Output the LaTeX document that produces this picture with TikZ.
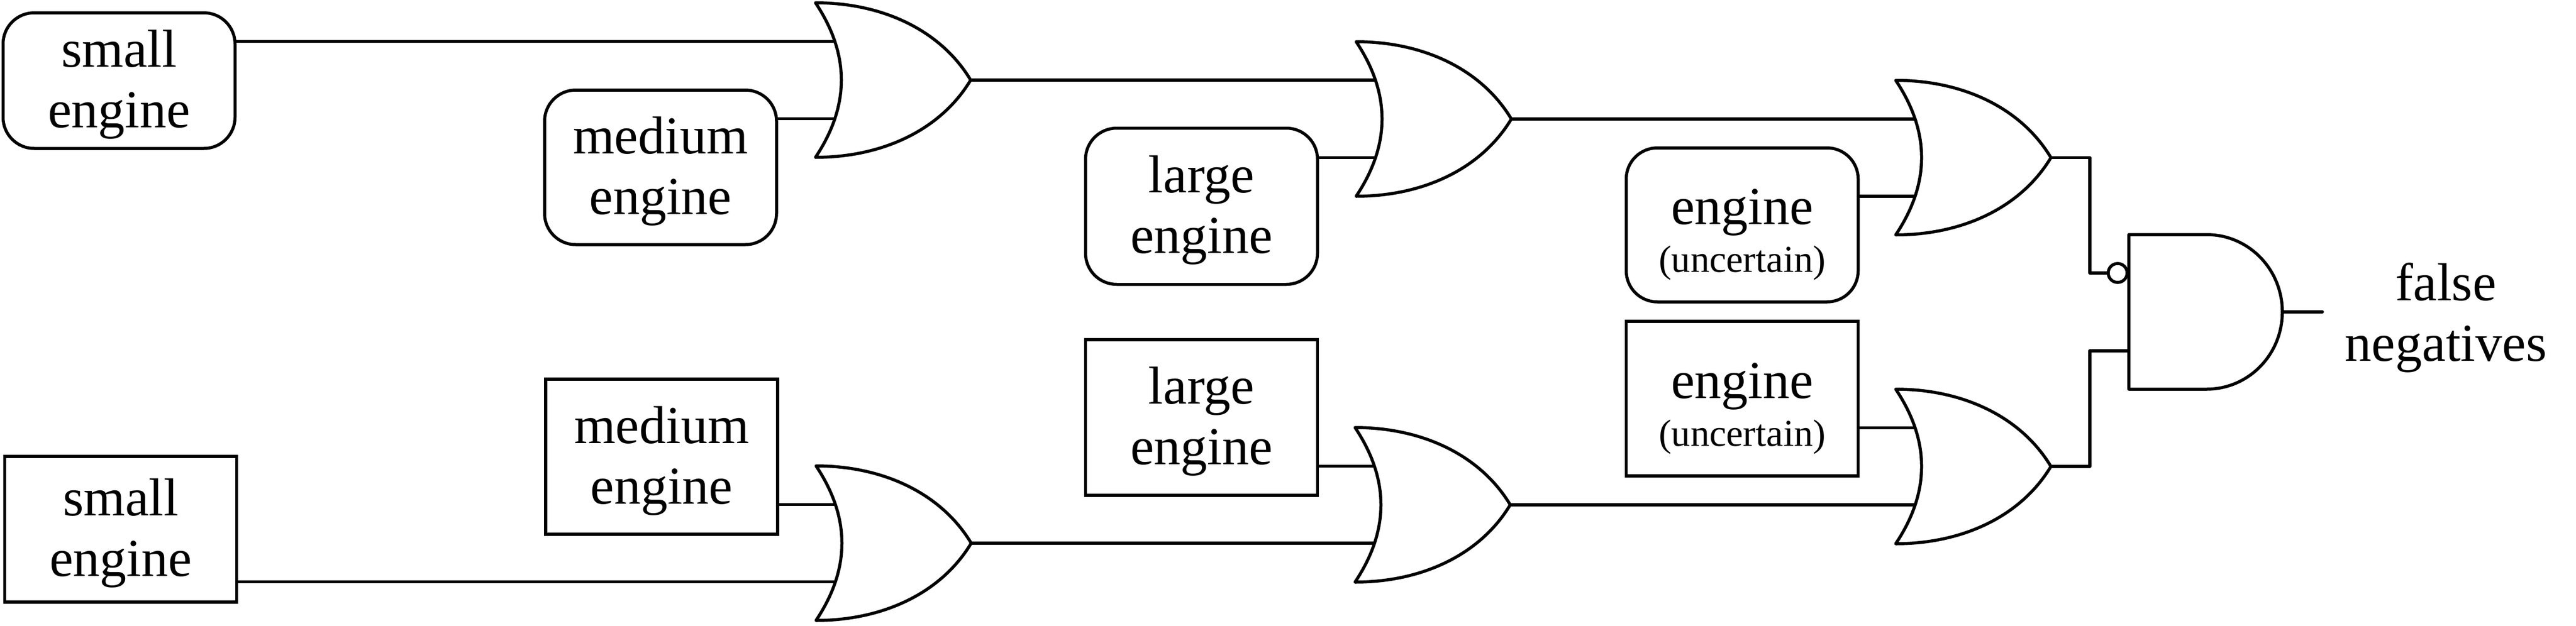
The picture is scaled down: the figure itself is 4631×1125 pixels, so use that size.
\documentclass[tikz,border=0pt]{standalone}
\usepackage{fontspec}
\setmainfont{Liberation Serif}

\tikzset{
  wire/.style={line width=2.75pt,line join=round,line cap=round},
  roundbox/.style={draw,line width=2.75pt,rounded corners=28pt,minimum width=208.5pt,inner sep=0pt,outer sep=0pt,align=center,font=\bigtext,text depth=3pt},
  sharpbox/.style={draw,line width=2.75pt,minimum width=208.5pt,inner sep=0pt,outer sep=0pt,align=center,font=\bigtext,text depth=3pt},
  uncert/.style={text depth=0pt},
  bubble/.style={draw,circle,line width=2.75pt,minimum size=17pt,inner sep=0pt,outer sep=0pt},
  outlabel/.style={inner sep=0pt,align=center,font=\bigtext}
}
\newcommand{\bigtext}{\fontsize{48}{54.5}\selectfont}
\newcommand{\smalltext}{\fontsize{34.2}{38}\selectfont}
\newcommand{\uncerttext}{\rule{0pt}{42pt}engine\\[-11.5pt]{\smalltext (uncertain)}}

% or gate: name, left end, centre height
\newcommand{\orgate}[3]{
  \begin{scope}[shift={(#2,#3)}]
    \draw[wire] (0,-139) .. controls (62,-46) and (62,46) .. (0,139)
      .. controls (120,139) and (225,90) .. (279,0)
      .. controls (225,-90) and (120,-139) .. (0,-139) -- cycle;
    \coordinate (#1-a) at (34,-69.5);
    \coordinate (#1-b) at (34,69.5);
    \coordinate (#1-o) at (279,0);
  \end{scope}
}
% and gate: name, left end, centre height
\newcommand{\andgate}[3]{
  \begin{scope}[shift={(#2,#3)}]
    \draw[wire] (0,-139) -- (140,-139) .. controls (215,-139) and (276,-77) .. (276,0)
      .. controls (276,77) and (215,139) .. (140,139) -- (0,139) -- cycle;
    \coordinate (#1-a) at (0,-70);
    \coordinate (#1-b) at (0,70);
    \coordinate (#1-o) at (276,0);
  \end{scope}
}

\begin{document}
\begin{tikzpicture}[x=0.5pt,y=0.5pt,yscale=-1,xscale=1]
  \useasboundingbox (0,0) rectangle (4631,1125);

  % upper row
  \orgate{ga}{1466}{144}
  \orgate{gb}{2438}{214}
  \orgate{gc}{3408}{283.5}
  \node[roundbox,minimum height=122pt] (smallr) at (214,145) {small\\engine};
  \node[roundbox,minimum height=139pt] (mediumr) at (1187.5,301) {medium\\engine};
  \node[roundbox,minimum height=140.5pt] (larger) at (2160,371) {large\\engine};
  \node[roundbox,uncert,minimum height=138.5pt] (uncertr) at (3132,404.5) {\uncerttext};

  % lower row
  \orgate{gd}{1467}{977}
  \orgate{ge}{2436}{908}
  \orgate{gf}{3408}{839}
  \node[sharpbox,minimum height=131pt] (smalls) at (217,952) {small\\engine};
  \node[sharpbox,minimum height=139.5pt] (mediums) at (1189.5,821.5) {medium\\engine};
  \node[sharpbox,minimum height=140pt] (larges) at (2160,751) {large\\engine};
  \node[sharpbox,uncert,minimum height=139pt] (uncerts) at (3132,717) {\uncerttext};

  % output gate
  \andgate{gg}{3827}{561}
  \node[bubble] (nota) at (3807,491) {};
  \node[outlabel] (falseneg) at (4397,572) {false\\negatives};
  \coordinate (busx) at (3757,0);
  \coordinate (outend) at (4175,561);

  % connectors
  \draw[wire] (smallr.east |- ga-a) -- (ga-a);
  \draw[wire] (mediumr.east |- ga-b) -- (ga-b);
  \draw[wire] (ga-o) -- (ga-o -| gb-a);
  \draw[wire] (larger.east |- gb-b) -- (gb-b);
  \draw[wire] (gb-o) -- (gb-o -| gc-a);
  \draw[wire] (uncertr.east |- gc-b) -- (gc-b);
  \draw[wire] (smalls.east |- gd-b) -- (gd-b);
  \draw[wire] (mediums.east |- gd-a) -- (gd-a);
  \draw[wire] (gd-o) -- (gd-o -| ge-b);
  \draw[wire] (larges.east |- ge-a) -- (ge-a);
  \draw[wire] (ge-o) -- (ge-o -| gf-b);
  \draw[wire] (uncerts.east |- gf-a) -- (gf-a);
  \draw[wire] (gc-o) -| (busx |- nota) -- (nota.west);
  \draw[wire] (gf-o) -| (busx |- gg-b) -- (gg-b);
  \draw[wire] (gg-o) -- (outend);
\end{tikzpicture}
\end{document}
